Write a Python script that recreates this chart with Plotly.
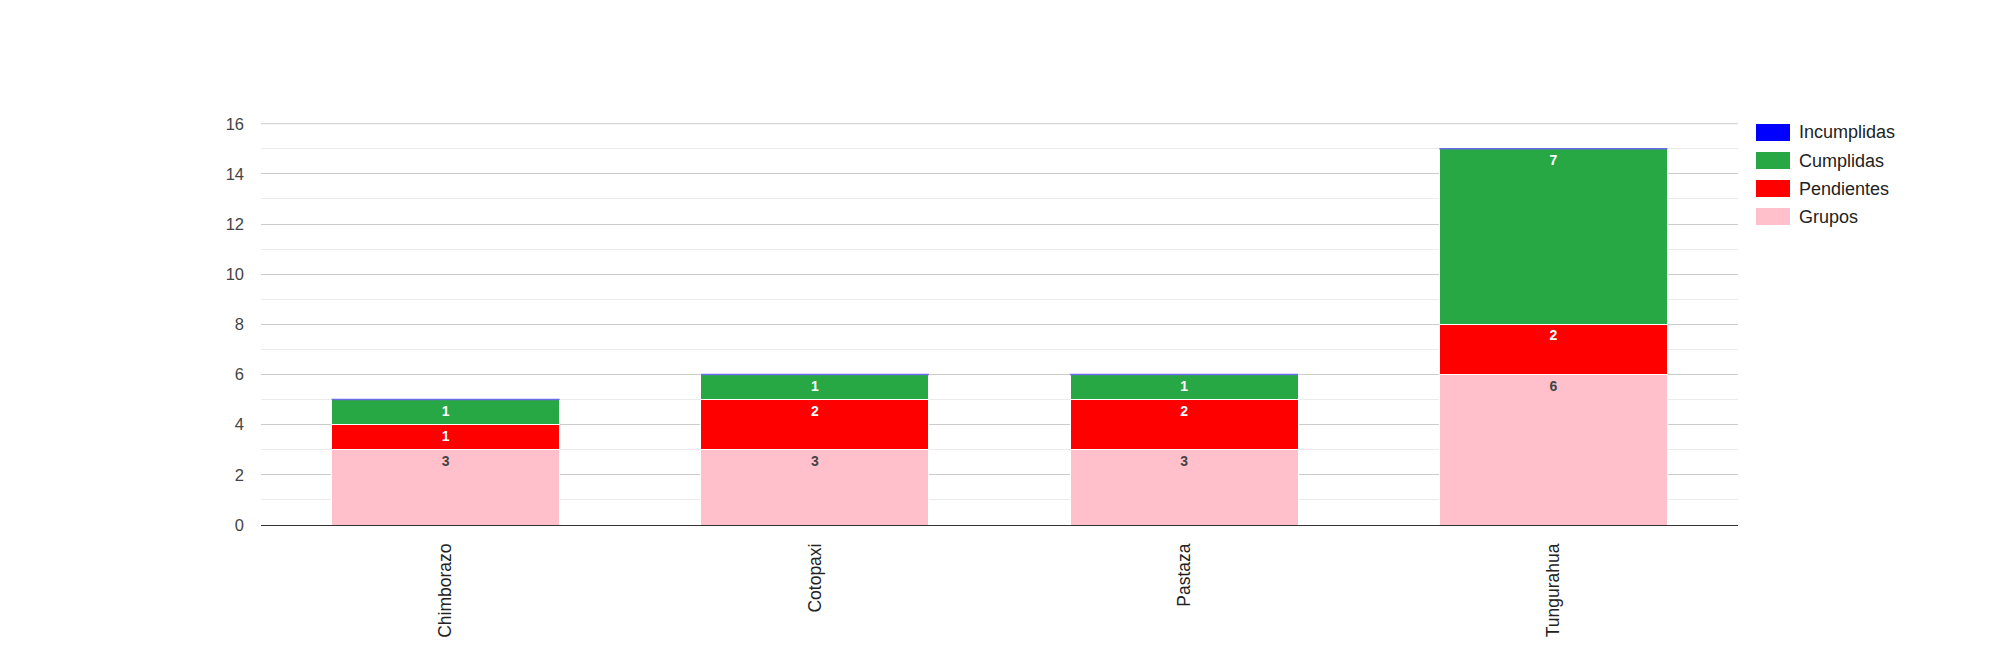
import plotly.graph_objects as go

categories = ["Chimborazo", "Cotopaxi", "Pastaza", "Tungurahua"]
grupos = [3, 3, 3, 6]
pendientes = [1, 2, 2, 2]
cumplidas = [1, 1, 1, 7]
incumplidas = [0, 0, 0, 0]
y_max = 16

series = [
    ("Grupos", grupos, "#ffc0cb", "#444444"),
    ("Pendientes", pendientes, "#ff0000", "#ffffff"),
    ("Cumplidas", cumplidas, "#28a745", "#ffffff"),
    ("Incumplidas", incumplidas, "#0000ff", "#ffffff"),
]

# page body has an 8px default margin, so shift the layout accordingly
OFF = 8
W, H = 2000, 650
L, R, T, B = 261 - OFF, 262 + OFF, 123 - OFF, 125 + OFF
PW, PH = W - L - R, H - T - B

def px(x):
    return (x - OFF - L) / PW

def py(y):
    return (H - B - (y - OFF)) / PH

fig = go.Figure()
for name, vals, color, tcolor in series:
    fig.add_trace(go.Bar(
        x=categories, y=vals, name=name,
        marker=dict(color=color, line=dict(color="white", width=1)),
        text=[str(v) if v else "" for v in vals],
        textposition="inside", insidetextanchor="end", textangle=0,
        constraintext="none",
        textfont=dict(family="Liberation Sans, Arial", size=14, color=tcolor, weight="bold"),
        showlegend=False,
    ))

# top gridline (at the upper edge of the range)
fig.add_shape(type="line", xref="paper", yref="y", x0=0, x1=1, y0=y_max, y1=y_max,
              line=dict(color="#cccccc", width=1), layer="below")

# thin lines for zero-height "Incumplidas" segments on top of each stack
bar_w = 0.618
for i, c in enumerate(categories):
    top = grupos[i] + pendientes[i] + cumplidas[i] + incumplidas[i]
    fig.add_shape(type="line", xref="x", yref="y",
                  x0=i - bar_w / 2, x1=i + bar_w / 2, y0=top, y1=top,
                  line=dict(color="#6b6be6", width=1.5), layer="above")

# custom legend (Google-style wide swatches)
legend_items = [(s[0], s[2]) for s in reversed(series)]
for k, (name, color) in enumerate(legend_items):
    yc = 132.5 + 28 * k
    fig.add_shape(type="rect", xref="paper", yref="paper",
                  x0=px(1756), x1=px(1790), y0=py(yc - 8.5), y1=py(yc + 8.5),
                  fillcolor=color, line=dict(width=0))
    fig.add_annotation(xref="paper", yref="paper", x=px(1797), y=py(yc),
                       text=name, showarrow=False, xanchor="left", yanchor="middle",
                       font=dict(family="Liberation Sans, Arial", size=18, color="#222222"))

fig.update_layout(
    width=W, height=H,
    margin=dict(l=L, r=R, t=T, b=B, pad=0),
    barmode="stack", bargap=0.382,
    plot_bgcolor="white", paper_bgcolor="white",
    font=dict(family="Liberation Sans, Arial", color="#444444"),
    showlegend=False,
    xaxis=dict(
        type="category", tickangle=-90, showgrid=False,
        tickfont=dict(size=17.5, color="#222222"), ticks="", ticklabelstandoff=14,
        showline=False,
    ),
    yaxis=dict(
        range=[0, y_max + 0.03], dtick=2, tick0=0, showgrid=True, gridcolor="#cccccc", gridwidth=1,
        minor=dict(dtick=1, showgrid=True, gridcolor="#ebebeb", gridwidth=1),
        zeroline=True, zerolinecolor="#333333", zerolinewidth=1,
        tickfont=dict(size=16.5, color="#444444"), ticks="", ticklabelstandoff=16,
        fixedrange=True,
    ),
)

fig.write_html("out.html")
